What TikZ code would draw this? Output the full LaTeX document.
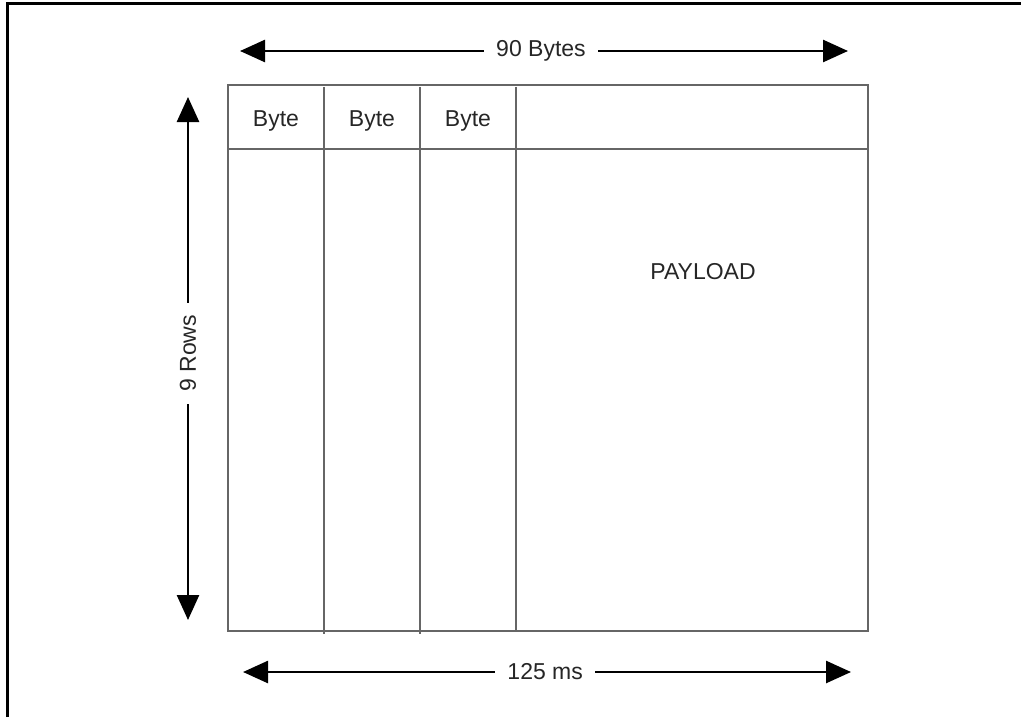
\documentclass[tikz,border=0pt]{standalone}
\usepackage{fontspec}
\setmainfont{Liberation Sans}
\usetikzlibrary{arrows.meta}
\begin{document}
\begin{tikzpicture}[x=0.5pt,y=-0.5pt,
  dimarrow/.style={line width=1.3pt,{Triangle[length=12.5pt,width=11pt]}-{Triangle[length=12.5pt,width=11pt]}},
  dimlabel/.style={fill=white,inner xsep=6pt,inner ysep=2pt,font=\fontsize{11.5}{13}\selectfont,text=black!85},
  gridline/.style={line width=0.8pt,draw=black!60},
  celltext/.style={font=\fontsize{11.5}{13}\selectfont,text=black!85}]
\useasboundingbox (0,0) rectangle (1021,717);
% frame
\draw[line width=1.5pt] (7,717) -- (7,4) -- (1021,4);
% box
\coordinate (tl) at (228,85);
\coordinate (br) at (868,631);
\draw[gridline] (tl) rectangle (br);
\draw[gridline] (228,149) -- (868,149);
\draw[gridline] (324,87) -- (324,634);
\draw[gridline] (420,87) -- (420,634);
\draw[gridline] (516,87) -- (516,631);
\node[celltext] (b1) at (276,121) {Byte};
\node[celltext] (b2) at (372,121) {Byte};
\node[celltext] (b3) at (468,121) {Byte};
\node[celltext] (pl) at (703,272) {PAYLOAD};
% dimension arrows
\coordinate (tA) at (240,51);
\coordinate (tB) at (848,51);
\draw[dimarrow] (tA) -- (tB) node[dimlabel,pos=0.495] (tlab) {90 Bytes};
\coordinate (bA) at (243,672);
\coordinate (bB) at (851,672);
\draw[dimarrow] (bA) -- (bB) node[dimlabel,pos=0.497] (blab) {125 ms};
\coordinate (lA) at (188,97);
\coordinate (lB) at (188,620);
\draw[dimarrow] (lA) -- (lB) node[dimlabel,pos=0.49,rotate=90,inner xsep=6pt] (llab) {9 Rows};
\end{tikzpicture}
\end{document}
